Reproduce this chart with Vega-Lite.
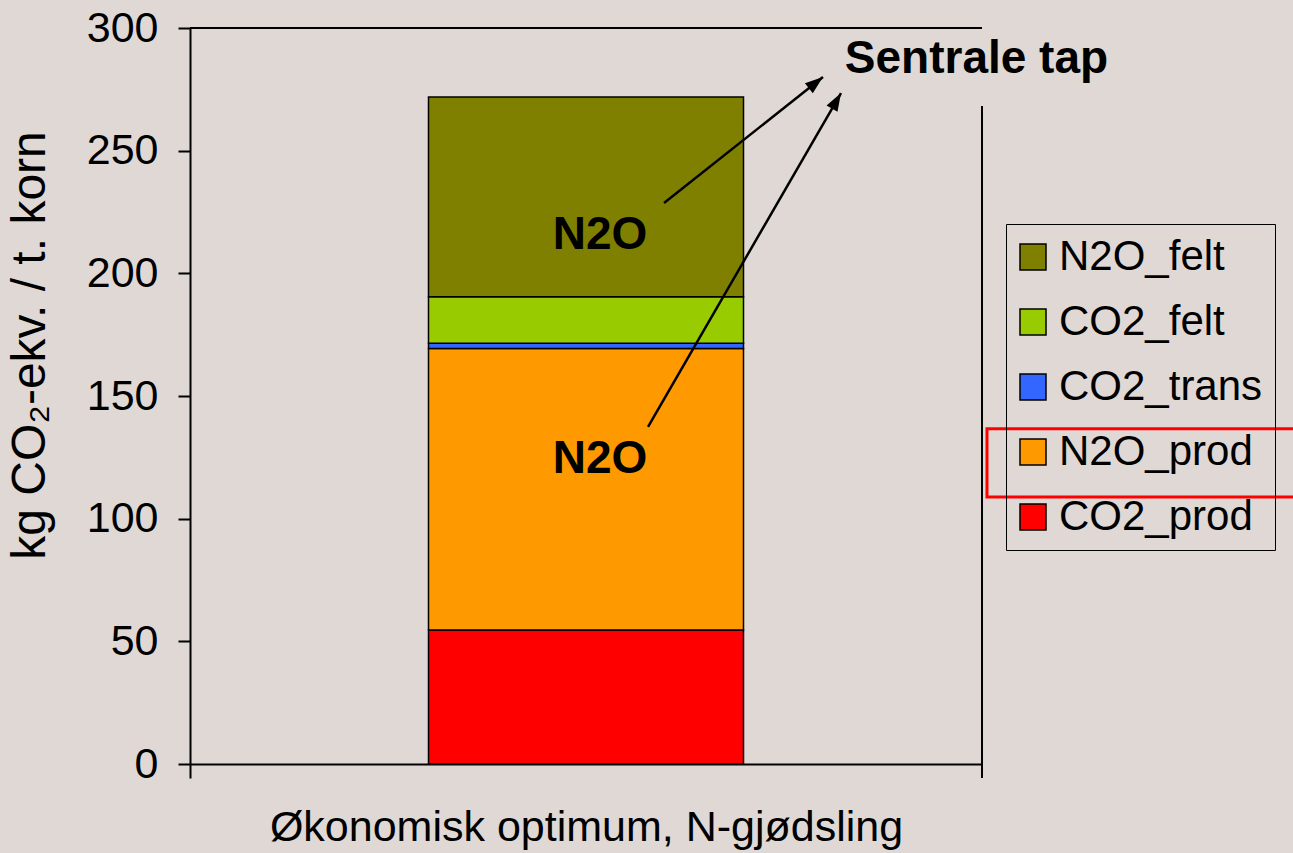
{
  "$schema": "https://vega.github.io/schema/vega-lite/v6.json",
  "width": 792,
  "height": 736,
  "autosize": {"type": "none"},
  "padding": {"left": 190, "top": 28, "right": 311, "bottom": 89},
  "background": "#dfd8d4",
  "config": {"view": {"stroke": null}, "font": "Liberation Sans"},
  "datasets": {
    "bars": [
      {"category": "Økonomisk optimum, N-gjødsling", "component": "CO2_prod", "value": 54.6, "ord": 1},
      {"category": "Økonomisk optimum, N-gjødsling", "component": "N2O_prod", "value": 114.8, "ord": 2},
      {"category": "Økonomisk optimum, N-gjødsling", "component": "CO2_trans", "value": 2.1, "ord": 3},
      {"category": "Økonomisk optimum, N-gjødsling", "component": "CO2_felt", "value": 19.0, "ord": 4},
      {"category": "Økonomisk optimum, N-gjødsling", "component": "N2O_felt", "value": 81.4, "ord": 5}
    ],
    "arrows": [
      {"id": 1, "x0": 0.5985, "y0": 228.7, "x1": 0.7992, "y1": 280.0},
      {"id": 2, "x0": 0.5783, "y0": 137.4, "x1": 0.8220, "y1": 273.5}
    ],
    "labels": [
      {"text": "N2O", "x": 0.5177, "y": 215.7},
      {"text": "N2O", "x": 0.5177, "y": 124.3}
    ],
    "title": [
      {"text": "Sentrale tap", "x": 0.993, "y": 287.2}
    ],
    "frame": [
      {"side": "top", "x0": 0, "x1": 1, "y0": 300, "y1": 300},
      {"side": "right", "x0": 1, "x1": 1, "y0": 268.2, "y1": -5.7}
    ],
    "highlight": [
      {"x0": 1.0063, "x1": 1.5, "y0": 108.8, "y1": 136.6}
    ]
  },
  "layer": [
    {
      "data": {"name": "bars"},
      "mark": {"type": "bar", "width": 315, "stroke": "black", "strokeWidth": 1.5},
      "encoding": {
        "x": {
          "field": "category", "type": "nominal",
          "scale": {"paddingInner": 0, "paddingOuter": 0},
          "axis": {
            "labels": false, "bandPosition": 0, "tickSize": 14, "tickWidth": 2, "tickColor": "black",
            "domainColor": "black", "domainWidth": 2,
            "title": "Økonomisk optimum, N-gjødsling", "titleFontSize": 43, "titleFontWeight": "normal",
            "titleColor": "black", "titlePadding": 27, "titleFont": "Liberation Sans"
          }
        },
        "y": {
          "field": "value", "type": "quantitative", "stack": "zero",
          "scale": {"domain": [0, 300], "nice": false},
          "axis": {
            "values": [0, 50, 100, 150, 200, 250, 300],
            "grid": false, "tickSize": 12, "tickWidth": 2, "tickColor": "black",
            "domainColor": "black", "domainWidth": 2,
            "labelFontSize": 43, "labelColor": "black", "labelPadding": 20, "labelFont": "Liberation Sans",
            "title": "kg CO₂-ekv. / t. korn", "titleFontSize": 48, "titleFontWeight": "normal",
            "titleColor": "black", "titleFont": "Liberation Sans",
            "titleAngle": 270, "titleX": -160, "titleY": 317, "titleAlign": "center", "titleBaseline": "middle"
          }
        },
        "color": {
          "field": "component", "type": "nominal",
          "scale": {
            "domain": ["N2O_felt", "CO2_felt", "CO2_trans", "N2O_prod", "CO2_prod"],
            "range": ["#808000", "#99cc00", "#3366ff", "#ff9900", "#ff0000"]
          },
          "legend": {
            "orient": "none", "legendX": 816, "legendY": 196, "title": null,
            "symbolType": "square", "symbolSize": 676, "symbolStrokeColor": "black", "symbolStrokeWidth": 1.5,
            "symbolOpacity": 1, "symbolOffset": -6,
            "labelFontSize": 42, "labelColor": "black", "labelFont": "Liberation Sans", "labelOffset": 5,
            "labelLimit": 500,
            "strokeColor": "black", "padding": 12, "rowPadding": 23
          }
        },
        "order": {"field": "ord", "type": "quantitative"}
      }
    },
    {
      "data": {"name": "frame"},
      "mark": {"type": "rule", "color": "black", "strokeWidth": 2},
      "encoding": {
        "x": {"field": "x0", "type": "quantitative", "scale": {"domain": [0, 1], "nice": false, "zero": false}, "axis": null},
        "x2": {"field": "x1"},
        "y": {"field": "y0", "type": "quantitative"},
        "y2": {"field": "y1"}
      }
    },
    {
      "data": {"name": "arrows"},
      "mark": {"type": "rule", "color": "black", "strokeWidth": 2.5},
      "encoding": {
        "x": {"field": "x0", "type": "quantitative", "scale": {"domain": [0, 1], "nice": false, "zero": false}, "axis": null},
        "x2": {"field": "x1"},
        "y": {"field": "y0", "type": "quantitative"},
        "y2": {"field": "y1"}
      }
    },
    {
      "data": {"name": "arrows"},
      "mark": {"type": "point", "shape": "M0,0L0.7,2L-0.7,2Z", "filled": true, "color": "black", "opacity": 1, "size": 324},
      "encoding": {
        "x": {"field": "x1", "type": "quantitative", "scale": {"domain": [0, 1], "nice": false, "zero": false}, "axis": null},
        "y": {"field": "y1", "type": "quantitative"},
        "angle": {"condition": {"test": "datum.id === 1", "value": 51.6}, "value": 30}
      }
    },
    {
      "data": {"name": "labels"},
      "mark": {"type": "text", "fontSize": 46, "fontWeight": "bold", "font": "Liberation Sans", "color": "black", "align": "center", "baseline": "middle"},
      "encoding": {
        "x": {"field": "x", "type": "quantitative", "scale": {"domain": [0, 1], "nice": false, "zero": false}, "axis": null},
        "y": {"field": "y", "type": "quantitative"},
        "text": {"field": "text"}
      }
    },
    {
      "data": {"name": "title"},
      "mark": {"type": "text", "fontSize": 46, "fontWeight": "bold", "font": "Liberation Sans", "color": "black", "align": "center", "baseline": "middle"},
      "encoding": {
        "x": {"field": "x", "type": "quantitative", "scale": {"domain": [0, 1], "nice": false, "zero": false}, "axis": null},
        "y": {"field": "y", "type": "quantitative"},
        "text": {"field": "text"}
      }
    },
    {
      "data": {"name": "highlight"},
      "mark": {"type": "rect", "fill": null, "fillOpacity": 0, "stroke": "#ff0000", "strokeWidth": 3},
      "encoding": {
        "x": {"field": "x0", "type": "quantitative", "scale": {"domain": [0, 1], "nice": false, "zero": false}, "axis": null},
        "x2": {"field": "x1"},
        "y": {"field": "y0", "type": "quantitative"},
        "y2": {"field": "y1"}
      }
    }
  ],
  "resolve": {"scale": {"x": "independent"}}
}
